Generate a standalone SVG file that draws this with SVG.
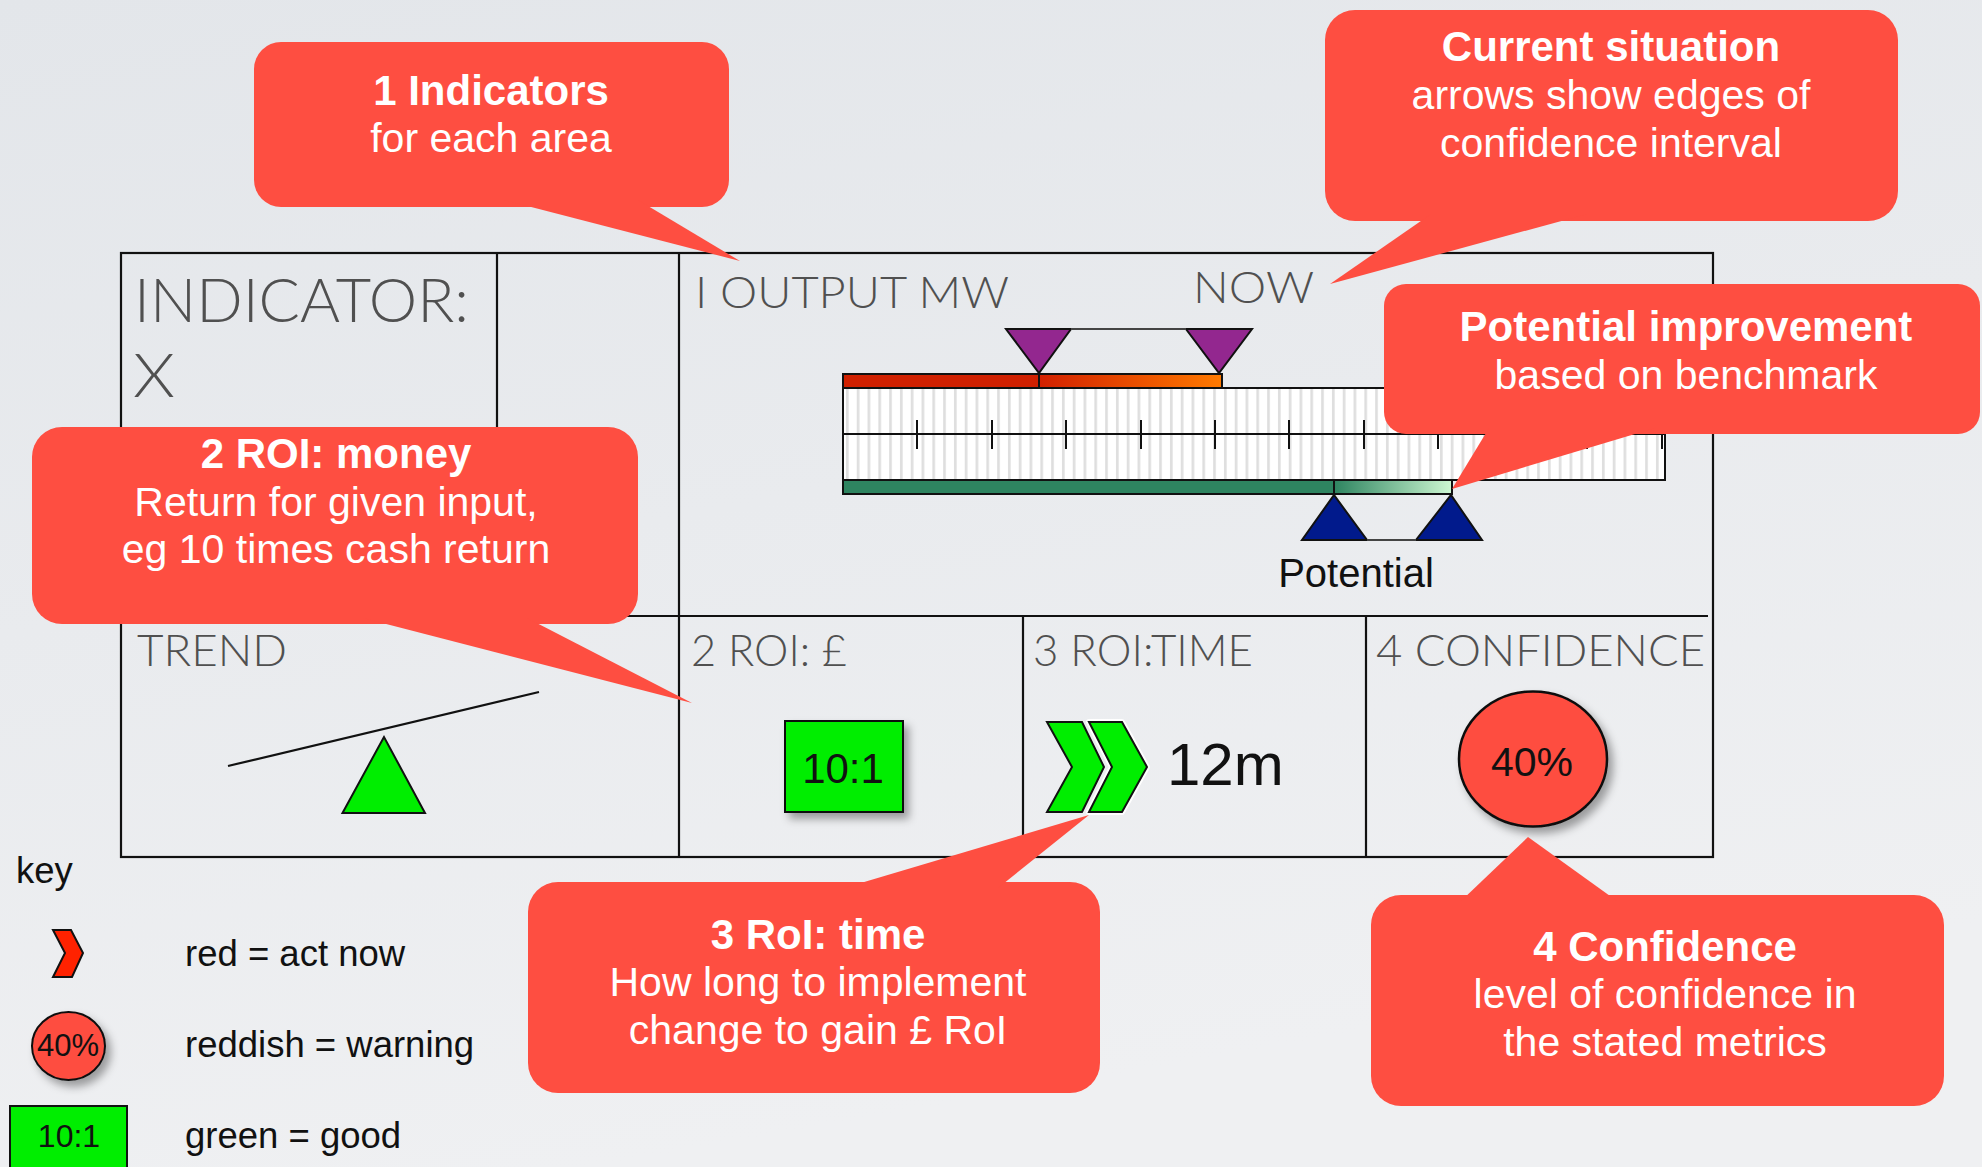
<svg xmlns="http://www.w3.org/2000/svg" width="1982" height="1167" viewBox="0 0 1982 1167">
<defs>
<linearGradient id="bg" x1="0" y1="0" x2="0.3" y2="1">
<stop offset="0" stop-color="#e3e6ea"/>
<stop offset="1" stop-color="#eff0f2"/>
</linearGradient>
<linearGradient id="gOrange" x1="0" y1="0" x2="1" y2="0">
<stop offset="0" stop-color="#d22000"/>
<stop offset="1" stop-color="#ff7a00"/>
</linearGradient>
<linearGradient id="gGreen" x1="0" y1="0" x2="1" y2="0">
<stop offset="0" stop-color="#2e8460"/>
<stop offset="1" stop-color="#cdf7d2"/>
</linearGradient>
<pattern id="hatch" patternUnits="userSpaceOnUse" x="843" y="0" width="10.8" height="100">
<rect width="10.8" height="100" fill="#ffffff"/>
<rect x="3" width="2.6" height="100" fill="#dedede"/>
</pattern>
<filter id="shadow" x="-20%" y="-20%" width="150%" height="150%">
<feDropShadow dx="5" dy="6" stdDeviation="4" flood-color="#000" flood-opacity="0.35"/>
</filter>
<style>
.cell{font-family:Lato,"Liberation Sans",sans-serif;font-weight:300;fill:#505050;}
.line{stroke:#111;stroke-width:2.2;fill:none;}
.co{fill:#fe4e41;}
.ct{font-family:"Liberation Sans",Arial,sans-serif;fill:#ffffff;text-anchor:middle;}
.tb{font-weight:bold;font-size:42px;}
.tr{font-size:41px;}
.blk{font-family:"Liberation Sans",Arial,sans-serif;fill:#111;}
.key{font-family:"Liberation Sans",Arial,sans-serif;fill:#111;font-size:36.5px;}
.edge{stroke:#111;stroke-width:2;}
</style>
</defs>
<rect width="1982" height="1167" fill="url(#bg)"/>

<g id="table">
<rect x="121" y="253" width="1592" height="604" class="line"/>
<line x1="497" y1="253" x2="497" y2="616" class="line"/>
<line x1="679" y1="253" x2="679" y2="857" class="line"/>
<line x1="121" y1="616" x2="1708" y2="616" class="line"/>
<line x1="1023" y1="616" x2="1023" y2="857" class="line"/>
<line x1="1366" y1="616" x2="1366" y2="857" class="line"/>
</g>

<g id="indicator-cell">
<text class="cell" x="134" y="322" font-size="61" textLength="335" lengthAdjust="spacingAndGlyphs">INDICATOR:</text>
<text class="cell" x="133" y="397" font-size="61" textLength="42" lengthAdjust="spacingAndGlyphs">X</text>
</g>

<g id="output-cell">
<text class="cell" x="695" y="308" font-size="44" textLength="314" lengthAdjust="spacingAndGlyphs">I OUTPUT MW</text>
<text class="cell" x="1193" y="303" font-size="44" textLength="121" lengthAdjust="spacingAndGlyphs">NOW</text>
<rect x="843" y="388" width="822" height="92" fill="url(#hatch)" class="edge"/>
<line x1="843" y1="434" x2="1665" y2="434" class="edge"/>
<g class="edge">
<line x1="917" y1="420" x2="917" y2="449"/>
<line x1="992" y1="420" x2="992" y2="449"/>
<line x1="1066" y1="420" x2="1066" y2="449"/>
<line x1="1141" y1="420" x2="1141" y2="449"/>
<line x1="1215" y1="420" x2="1215" y2="449"/>
<line x1="1289" y1="420" x2="1289" y2="449"/>
<line x1="1364" y1="420" x2="1364" y2="449"/>
<line x1="1438" y1="420" x2="1438" y2="449"/>
<line x1="1513" y1="420" x2="1513" y2="449"/>
<line x1="1587" y1="420" x2="1587" y2="449"/>
<line x1="1662" y1="420" x2="1662" y2="449"/>
</g>
<rect x="843" y="374" width="196" height="14" fill="#d02000" class="edge"/>
<rect x="1039" y="374" width="183" height="14" fill="url(#gOrange)" class="edge"/>
<rect x="843" y="480" width="491" height="14" fill="#2e8460" class="edge"/>
<rect x="1334" y="480" width="118" height="14" fill="url(#gGreen)" class="edge"/>
<polygon points="1006,329 1071,329 1039,373" fill="#93278f" class="edge"/>
<polygon points="1186,329 1252,329 1219,373" fill="#93278f" class="edge"/>
<polygon points="1302,540 1367,540 1334,495" fill="#011a8c" class="edge"/>
<polygon points="1416,540 1482,540 1451,495" fill="#011a8c" class="edge"/>
<text class="blk" x="1356" y="587" font-size="40" text-anchor="middle">Potential</text>
</g>

<g id="connectors">
<line x1="1071" y1="329" x2="1186" y2="329" stroke="#444" stroke-width="2"/>
<line x1="1367" y1="540" x2="1416" y2="540" stroke="#444" stroke-width="2"/>
</g>

<g id="trend-cell">
<text class="cell" x="137" y="666" font-size="44" textLength="150" lengthAdjust="spacingAndGlyphs">TREND</text>
<line x1="228" y1="766" x2="539" y2="692" stroke="#111" stroke-width="2.2"/>
<polygon points="384,737 342.5,813 425,813" fill="#00ee00" class="edge"/>
</g>

<g id="roi-money-cell">
<text class="cell" x="691" y="666" font-size="44" textLength="156" lengthAdjust="spacingAndGlyphs">2 ROI: £</text>
<rect x="785" y="721" width="118" height="91" fill="#00ee00" class="edge" filter="url(#shadow)"/>
<text class="blk" x="843" y="783" font-size="42" text-anchor="middle">10:1</text>
</g>

<g id="roi-time-cell">
<text class="cell" x="1033" y="666" font-size="44" textLength="220" lengthAdjust="spacingAndGlyphs">3 ROI:TIME</text>
<polygon points="1047,722 1082,722 1104,767 1082,812 1047,812 1072,767" fill="#00ee00" class="edge"/>
<polygon points="1089,722 1122,722 1147,767 1122,812 1089,812 1112,767" fill="#00ee00" stroke="#fff" stroke-width="6" stroke-linejoin="round"/>
<polygon points="1089,722 1122,722 1147,767 1122,812 1089,812 1112,767" fill="#00ee00" class="edge"/>
<text class="blk" x="1167" y="785" font-size="60">12m</text>
</g>

<g id="confidence-cell">
<text class="cell" x="1376" y="666" font-size="44" textLength="329" lengthAdjust="spacingAndGlyphs">4 CONFIDENCE</text>
<ellipse cx="1533" cy="759" rx="74" ry="67.5" fill="#fe4e41" stroke="#111" stroke-width="2.5" filter="url(#shadow)"/>
<text class="blk" x="1532" y="776" font-size="41" text-anchor="middle">40%</text>
</g>

<g id="key">
<text class="key" x="16" y="883" font-size="38">key</text>
<polygon points="53,930 71,930 83,953 72,977 53,977 65,953" fill="#ff2200" class="edge"/>
<text class="key" x="185" y="966">red = act now</text>
<ellipse cx="68.5" cy="1046" rx="36.5" ry="34" fill="#fe4e41" stroke="#111" stroke-width="2" filter="url(#shadow)"/>
<text class="blk" x="68" y="1056" font-size="31" text-anchor="middle">40%</text>
<text class="key" x="185" y="1057">reddish = warning</text>
<rect x="10" y="1106" width="117" height="70" fill="#00ee00" class="edge"/>
<text class="blk" x="69" y="1147" font-size="32" text-anchor="middle">10:1</text>
<text class="key" x="185" y="1148">green = good</text>
</g>

<g id="callout-indicators">
<rect class="co" x="254" y="42" width="475" height="165" rx="27"/>
<polygon class="co" points="504,200 638,200 740,261"/>
<text class="ct tb" x="491" y="105">1 Indicators</text>
<text class="ct tr" x="491" y="152">for each area</text>
</g>

<g id="callout-current">
<rect class="co" x="1325" y="10" width="573" height="211" rx="30"/>
<polygon class="co" points="1431,214 1587,214 1330,284"/>
<text class="ct tb" x="1611" y="61">Current situation</text>
<text class="ct tr" x="1611" y="109">arrows show edges of</text>
<text class="ct tr" x="1611" y="157">confidence interval</text>
</g>

<g id="callout-potential">
<rect class="co" x="1384" y="284" width="596" height="150" rx="22"/>
<polygon class="co" points="1489,428 1655,428 1452,489"/>
<text class="ct tb" x="1686" y="341">Potential improvement</text>
<text class="ct tr" x="1686" y="389">based on benchmark</text>
</g>

<g id="callout-money">
<rect class="co" x="32" y="427" width="606" height="197" rx="30"/>
<polygon class="co" points="363,618 527,618 692,703"/>
<text class="ct tb" x="336" y="468">2 ROI: money</text>
<text class="ct tr" x="336" y="516">Return for given input,</text>
<text class="ct tr" x="336" y="563">eg 10 times cash return</text>
</g>

<g id="callout-time">
<rect class="co" x="528" y="882" width="572" height="211" rx="30"/>
<polygon class="co" points="844,888 998,888 1089,815"/>
<text class="ct tb" x="818" y="949">3 RoI: time</text>
<text class="ct tr" x="818" y="996">How long to implement</text>
<text class="ct tr" x="818" y="1044">change to gain £ RoI</text>
</g>

<g id="callout-confidence">
<rect class="co" x="1371" y="895" width="573" height="211" rx="30"/>
<polygon class="co" points="1461,901 1617,901 1528,837"/>
<text class="ct tb" x="1665" y="961">4 Confidence</text>
<text class="ct tr" x="1665" y="1008">level of confidence in</text>
<text class="ct tr" x="1665" y="1056">the stated metrics</text>
</g>
</svg>
